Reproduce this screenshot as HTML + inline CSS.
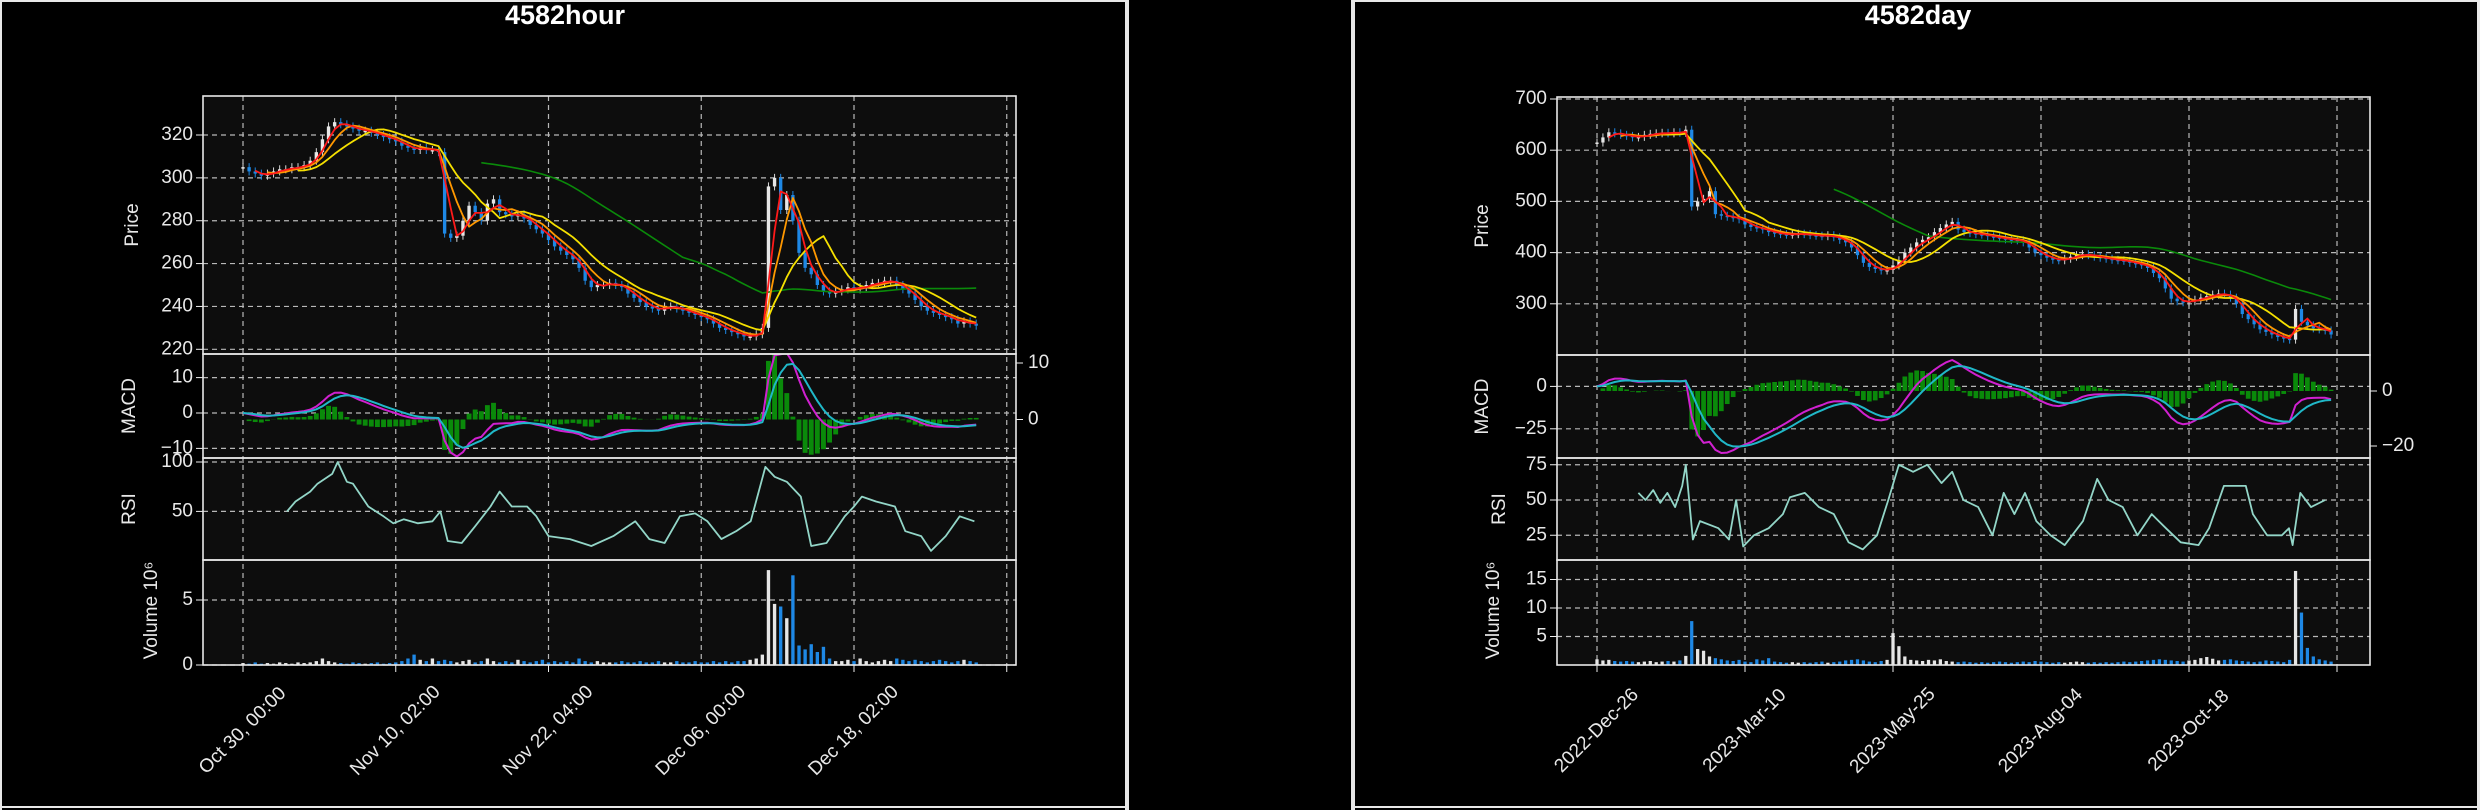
<!DOCTYPE html>
<html><head><meta charset="utf-8"><style>
html,body{margin:0;padding:0;background:#000;}
svg{display:block;font-family:"Liberation Sans","DejaVu Sans",sans-serif;}
</style></head><body>
<svg id="root" width="2480" height="810" viewBox="0 0 2480 810" xmlns="http://www.w3.org/2000/svg">
<rect x="0" y="0" width="2480" height="810" fill="#000"/>
<g fill="#e8e8e8">
<rect x="0" y="0" width="1129" height="2"/><rect x="0" y="0" width="2" height="810"/><rect x="0" y="806" width="1129" height="2"/><rect x="1125" y="0" width="4" height="810"/>
</g>
<g fill="#e8e8e8">
<rect x="1351" y="0" width="1129" height="2"/><rect x="1351" y="0" width="4" height="810"/><rect x="1351" y="806" width="1129" height="2"/><rect x="2477" y="0" width="3" height="810"/>
</g>
<text x="565" y="24" fill="#fff" font-size="27" font-weight="bold" text-anchor="middle">4582hour</text>
<text x="1918" y="24" fill="#fff" font-size="27" font-weight="bold" text-anchor="middle">4582day</text>
</svg>
<script>
// ---- hourly data ----
const hourCloses=[305,303,302,301,302,303,304,304,305,305,306,
308,312,318,324,326,325,324,323,322,322,
321,320,319,318,317,315,314,313,314,313,313,312,
274,272,273,280,287,284,280,288,290,284,283,282,283,
281,278,276,274,271,268,266,264,262,258,252,249,250,250,251,
250,249,246,244,242,240,239,238,240,240,239,238,237,236,235,
234,232,230,229,228,227,226,226,227,230,
296,300,285,292,280,265,258,255,250,247,
246,247,248,249,248,249,250,251,251,252,252,250,248,246,243,
240,238,237,236,235,234,232,233,232,231];
const hourVolumes=[.15,.1,.2,.1,.15,.1,.2,.15,.1,.2,.15,
.2,.3,.5,.3,.2,.15,.1,.2,.15,.1,
.15,.2,.1,.15,.2,.3,.5,.8,.4,.3,.5,.3,
.4,.3,.2,.3,.4,.2,.3,.5,.3,.2,.3,.2,.4,
.3,.2,.3,.4,.2,.3,.2,.3,.2,.5,.3,.2,.3,.2,.2,
.2,.3,.2,.2,.3,.2,.2,.3,.2,.2,.3,.2,.2,.3,.2,
.2,.3,.2,.3,.2,.3,.3,.4,.5,.8,
7.3,4.7,4.5,3.6,6.9,1.5,1.2,1.6,1.0,1.4,
.5,.3,.3,.4,.3,.5,.3,.2,.3,.4,.3,.5,.4,.3,.4,
.3,.2,.3,.4,.3,.2,.3,.4,.3,.2];
const hourRsiIdx=[7.2,8.6,11,12.2,14.6,15.5,17,18,20.5,23,24.6,26.3,28.6,31,32.3,33.5,35.8,38,40.5,42,44,46.5,48,50,53.5,57,60.6,64.2,66.5,69,71.5,74,76,78.3,80.7,83.1,85.5,87,89,91.3,93,95.5,98.5,100,101.3,103.6,106.7,108.4,111,112.6,115,117.3,119.7];
const hourRsiVals=[50,60,70,78,88,100,80,78,55,45,38,42,38,40,50,20,18,35,55,70,55,55,45,25,22,15,25,40,22,18,45,48,40,22,30,40,95,85,80,65,15,18,45,55,65,60,55,30,25,10,25,45,40];
const hourTickLabels=["Oct 30, 00:00","Nov 10, 02:00","Nov 22, 04:00","Dec 06, 00:00","Dec 18, 02:00",""];
const hourPriceTicks=[220,240,260,280,300,320];
const hourMacdTicks=[-10,0,10];
const hourMacdRightTicks=[0,10];
const hourRsiTicks=[50,100];
const hourVolTicks=[0,5];
// ---- daily data ----
const dayCloses=[615,625,635,633,630,628,625,626,630,632,633,634,633,635,634,640,
490,500,505,520,475,472,470,468,465,455,450,448,445,440,438,
436,435,436,437,436,434,433,432,434,430,425,420,410,395,380,
372,368,365,366,375,385,400,410,420,425,430,440,448,455,460,
445,440,438,436,435,432,430,428,426,425,424,420,410,400,395,
390,386,385,388,392,395,397,395,392,390,388,386,385,384,380,
378,376,370,360,350,330,310,305,303,305,308,312,315,318,320,
318,312,300,280,270,260,250,245,240,235,232,230,290,265,258,252,250,248,240];
const dayVolumes=[1.0,.8,.9,.7,.6,.7,.6,.5,.6,.7,.5,.6,.7,.6,.8,1.6,
7.7,2.8,2.5,1.5,1.2,1.0,.8,.7,.9,.6,.5,1.0,.8,1.2,.6,
.5,.4,.5,.4,.5,.4,.5,.6,.4,.5,.6,.8,.9,1.0,.8,
.6,.5,.7,.9,5.6,3.3,1.5,.9,.8,.7,.9,.8,1.0,.7,.6,
.5,.6,.5,.4,.5,.4,.5,.6,.5,.4,.5,.6,.5,.7,.6,
.5,.4,.5,.4,.5,.6,.5,.4,.5,.4,.5,.4,.5,.6,.5,
.6,.7,.8,.9,1.0,.9,.8,.7,.6,.8,.9,1.2,1.4,1.1,.8,
.9,1.0,.8,.7,.6,.5,.6,.8,.7,.6,.5,.9,16.5,9.2,3.0,1.5,1.0,.8,.6];
const dayRsiIdx=[7,8.2,9.5,10.7,11.9,13.2,14.4,15,16.2,17.4,20.5,22.3,23.5,24.7,26.5,29,31.4,32.6,35.1,37.5,40,42.5,44.9,47.3,49.2,51,53.4,55.8,58.2,60,61.9,64.4,66.8,68.7,70.5,72.3,74.2,76.6,79,82.1,84.5,86.4,88.8,91.3,93.7,96.1,98.6,101.6,103.4,105.9,109.6,110.8,113.2,115.7,116.9,117.5,118.8,120.6,123];
const dayRsiVals=[55,50,57,48,55,45,60,75,22,35,30,22,50,17,25,30,40,52,55,45,40,20,15,25,50,75,70,75,62,70,50,45,25,55,40,55,35,25,18,35,65,50,45,25,40,30,20,18,30,60,60,40,25,25,30,18,55,45,50];
const dayTickLabels=["2022-Dec-26","2023-Mar-10","2023-May-25","2023-Aug-04","2023-Oct-18",""];
const dayPriceTicks=[300,400,500,600,700];
const dayMacdTicks=[-25,0];
const dayMacdRightTicks=[-20,0];
const dayRsiTicks=[25,50,75];
const dayVolTicks=[5,10,15];

const NS="http://www.w3.org/2000/svg";
const root=document.getElementById('root');
function mk(tag,attrs,parent){const e=document.createElementNS(NS,tag);for(const k in attrs)e.setAttribute(k,attrs[k]);(parent||root).appendChild(e);return e;}
function sma(a,w){return a.map((v,i)=>{if(i<w-1)return null;let s=0;for(let j=i-w+1;j<=i;j++)s+=a[j];return s/w;});}
function ema(a,p){const k=2/(p+1);const o=[];a.forEach((v,i)=>{o.push(i===0?v:(v*k+o[i-1]*(1-k)));});return o;}

function build(c){
  const G=mk('g',{});
  
  
  const L=c.left,R=c.right;
  const X=i=>c.x0+i*c.step;
  const panels=[['price',c.pTop,c.pBot],['macd',c.pBot,c.mBot],['rsi',c.mBot,c.rBot],['volume',c.rBot,c.vBot]];
  panels.forEach(p=>{
    const r=mk('rect',{x:L,y:p[1],width:R-L,height:p[2]-p[1],fill:'#0d0d0d'},G);
    
    
    const cp=mk('clipPath',{id:c.name+'clip'+p[0]},G);
    mk('rect',{x:L,y:p[1],width:R-L,height:p[2]-p[1]},cp);
  });
  const grid=mk('g',{stroke:'#b8b8b8','stroke-width':1.2,'stroke-dasharray':'5,4',fill:'none'},G);
  
  
  c.tickLabels.forEach((lab,k)=>{
    const x=X(k*c.tickEvery);
    mk('line',{x1:x,x2:x,y1:c.pTop,y2:c.vBot},grid);
    mk('line',{x1:x,x2:x,y1:c.vBot,y2:c.vBot+7,stroke:'#eee','stroke-dasharray':'none'},G);
    if(lab){
      const t=mk('text',{x:x,y:731,fill:'#e8e8e8','font-size':19,'text-anchor':'middle','dominant-baseline':'middle',transform:`rotate(-45 ${x} 731)`},G);
      t.textContent=lab;
      
      
    }
  });
  function yTicks(ticks,fy,side){
    ticks.forEach(v=>{
      const y=fy(v);
      if(side==='left') mk('line',{x1:L,x2:R,y1:y,y2:y},grid);
      const xt=side==='left'?L:R;
      mk('line',{x1:xt,x2:side==='left'?xt-7:xt+7,y1:y,y2:y,stroke:'#eee'},G);
      const t=mk('text',{x:side==='left'?xt-10:xt+12,y:y,fill:'#e8e8e8','font-size':19,'text-anchor':side==='left'?'end':'start','dominant-baseline':'middle'},G);
      t.textContent=String(v).replace('-','\u2212');
      
      
    });
  }
  const pY=v=>c.pyA+(c.pyV-v)*c.pyK;
  const mY=v=>c.myA-v*c.myK, mRY=v=>c.mrA-v*c.mrK;
  const rY=v=>c.ryA-(v-50)*c.ryK, vY=v=>c.vBot-v*c.vyK;
  yTicks(c.priceTicks,pY,'left');
  yTicks(c.macdTicks,mY,'left');
  yTicks(c.macdRightTicks,mRY,'right');
  yTicks(c.rsiTicks,rY,'left');
  yTicks(c.volTicks,vY,'left');
  const cl=c.closes,bw=Math.max(2,c.step*0.55);
  const cg=mk('g',{'clip-path':`url(#${c.name}clipprice)`},G);
  
  
  cl.forEach((v,i)=>{
    const o=i?cl[i-1]:v;const up=v>=o;
    const y1=pY(Math.max(o,v)),y2=pY(Math.min(o,v));
    const x=X(i);
    mk('line',{x1:x,x2:x,y1:y1-4,y2:y2+4,stroke:up?'#d8d8d8':'#1e88e5','stroke-width':1},cg);
    const r=mk('rect',{x:x-bw/2,y:y1,width:bw,height:Math.max(1.5,y2-y1),fill:up?'#e6e6e6':'#1e88e5'},cg);
    
    
  });
  function line(vals,fy,color,w,clip,nm,xs){
    let d='';vals.forEach((v,i)=>{if(v==null)return;const xi=xs?X(xs[i]):X(i);d+=(d?'L':'M')+xi.toFixed(1)+','+fy(v).toFixed(1);});
    const p=mk('path',{d:d,fill:'none',stroke:color,'stroke-width':w,'stroke-linejoin':'round','clip-path':`url(#${c.name}clip${clip})`},G);
    
    
  }
  line(sma(cl,c.ma[3]),pY,'#0a8a0a',1.6,'price','ma-long-line');
  line(sma(cl,c.ma[2]),pY,'#f5e000',1.8,'price','ma-slow-line');
  line(sma(cl,c.ma[1]),pY,'#ff9800',1.8,'price','ma-mid-line');
  line(sma(cl,c.ma[0]),pY,'#ff1a1a',1.8,'price','ma-fast-line');
  const ef=ema(cl,c.macdP[0]),es=ema(cl,c.macdP[1]);
  const macd=ef.map((v,i)=>v-es[i]);const sig=ema(macd,c.macdP[2]);
  const hg=mk('g',{'clip-path':`url(#${c.name}clipmacd)`},G);
  
  
  macd.forEach((v,i)=>{
    const h=(v-sig[i])*c.histScale;const y0=mRY(0),y1=mRY(h);
    const r=mk('rect',{x:X(i)-c.step*0.4,y:Math.min(y0,y1),width:c.step*0.8,height:Math.abs(y1-y0),fill:'#0a8a0a'},hg);
    
    
  });
  line(macd,mY,'#d020d0',2,'macd','macd-line');
  line(sig,mY,'#20b8c8',2,'macd','signal-line');
  line(c.rsiVals,rY,'#93d6c8',1.8,'rsi','rsi-line',c.rsiIdx);
  const vg=mk('g',{'clip-path':`url(#${c.name}clipvolume)`},G);
  
  
  c.volumes.forEach((v,i)=>{
    const up=cl[i]>=(i?cl[i-1]:cl[i]);
    const r=mk('rect',{x:X(i)-bw/2,y:vY(v),width:bw,height:c.vBot-vY(v),fill:up?'#e6e6e6':'#1e88e5'},vg);
    
    
  });
  panels.forEach(p=>{mk('rect',{x:L,y:p[1],width:R-L,height:p[2]-p[1],fill:'none',stroke:'#e8e8e8','stroke-width':1.6},G);});
  const titles=[['Price',c.lx[0],(c.pTop+c.pBot)/2],['MACD',c.lx[1],(c.pBot+c.mBot)/2],['RSI',c.lx[2],(c.mBot+c.rBot)/2],['Volume  10\u2076',c.lx[3],(c.rBot+c.vBot)/2-2]];
  titles.forEach(t=>{
    const e=mk('text',{x:t[1],y:t[2],fill:'#e8e8e8','font-size':19,'text-anchor':'middle','dominant-baseline':'middle',transform:`rotate(-90 ${t[1]} ${t[2]})`},G);
    e.textContent=t[0];
    
    
  });
}
build({name:'hour',closes:hourCloses,volumes:hourVolumes,rsiIdx:hourRsiIdx,rsiVals:hourRsiVals,tickLabels:hourTickLabels,priceTicks:hourPriceTicks,macdTicks:hourMacdTicks,macdRightTicks:hourMacdRightTicks,rsiTicks:hourRsiTicks,volTicks:hourVolTicks,
  left:203,right:1016,x0:243,step:6.11,tickEvery:25,pTop:96,pBot:354,mBot:458,rBot:560,vBot:665,
  pyA:135,pyV:320,pyK:2.143,myA:413,myK:3.54,mrA:419.5,mrK:5.65,ryA:511.4,ryK:0.988,vyK:13,
  ma:[3,5,10,40],macdP:[5,11,4],histScale:1.4,lx:[133,130,130,152]});
build({name:'day',closes:dayCloses,volumes:dayVolumes,rsiIdx:dayRsiIdx,rsiVals:dayRsiVals,tickLabels:dayTickLabels,priceTicks:dayPriceTicks,macdTicks:dayMacdTicks,macdRightTicks:dayMacdRightTicks,rsiTicks:dayRsiTicks,volTicks:dayVolTicks,
  left:1557,right:2370,x0:1597,step:5.92,tickEvery:25,pTop:97,pBot:355,mBot:458,rBot:560,vBot:665,
  pyA:99,pyV:700,pyK:0.512,myA:386.4,myK:1.696,mrA:391,mrK:2.75,ryA:500,ryK:1.41,vyK:5.7,
  ma:[3,5,10,41],macdP:[6,13,5],histScale:1.0,lx:[1483,1483,1500,1494]});
</script>
</body></html>
